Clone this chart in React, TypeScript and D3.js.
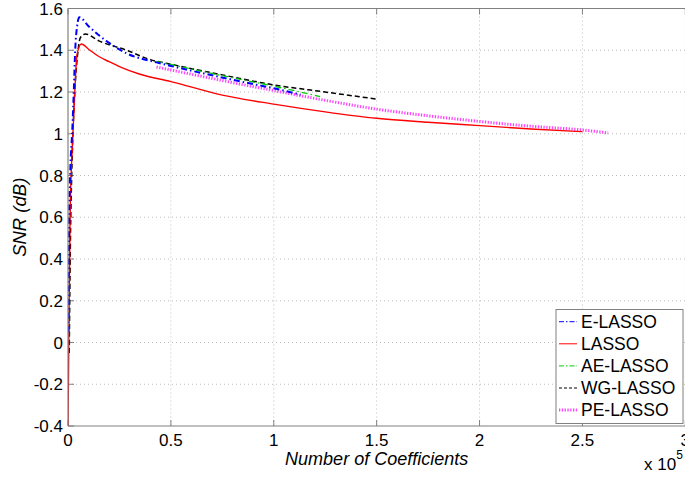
import React from "react";
import * as d3 from "d3";

// x values in units of 1e5 coefficients
const eLassoX = [0.002, 0.006, 0.012, 0.02, 0.028, 0.035, 0.045, 0.055, 0.1, 0.2, 0.285, 0.43, 0.5, 0.7, 0.9, 1.0, 1.13];
const eLassoY = [0.05, 0.6, 0.85, 1.0, 1.2, 1.4, 1.52, 1.558, 1.515, 1.435, 1.385, 1.342, 1.325, 1.28, 1.238, 1.218, 1.187];

const lassoX = [0, 0.003, 0.01, 0.024, 0.033, 0.044, 0.065, 0.1, 0.15, 0.2, 0.25, 0.35, 0.5, 0.75, 1.0, 1.25, 1.5, 1.75, 2.0, 2.25, 2.5];
const lassoY = [-0.4, -0.1, 0.6, 1.0, 1.2, 1.38, 1.43, 1.405, 1.37, 1.345, 1.322, 1.285, 1.25, 1.185, 1.142, 1.105, 1.074, 1.055, 1.039, 1.023, 1.01];

const aeLassoX = [0.43, 0.6, 0.8, 1.0, 1.225];
const aeLassoY = [1.347, 1.31, 1.268, 1.228, 1.178];

const wgLassoX = [0.006, 0.012, 0.018, 0.024, 0.033, 0.049, 0.06, 0.084, 0.15, 0.285, 0.4, 0.5, 0.75, 1.0, 1.25, 1.5];
const wgLassoY = [-0.05, 0.5, 0.8, 1.0, 1.2, 1.4, 1.46, 1.478, 1.445, 1.4, 1.355, 1.333, 1.282, 1.234, 1.2, 1.166];

const peLassoX = [0.43, 0.6, 0.8, 1.0, 1.25, 1.5, 1.75, 2.0, 2.25, 2.5, 2.625];
const peLassoY = [1.32, 1.285, 1.245, 1.207, 1.16, 1.118, 1.086, 1.059, 1.036, 1.018, 1.004];

const xTicks = [0, 0.5, 1, 1.5, 2, 2.5, 3];
const xTickLabels = ["0", "0.5", "1", "1.5", "2", "2.5", "3"];
const yTicks = [-0.4, -0.2, 0, 0.2, 0.4, 0.6, 0.8, 1, 1.2, 1.4, 1.6];
const yTickLabels = ["-0.4", "-0.2", "0", "0.2", "0.4", "0.6", "0.8", "1", "1.2", "1.4", "1.6"];

const seriesNames = ["E-LASSO", "LASSO", "AE-LASSO", "WG-LASSO", "PE-LASSO"];

const W = 685;
const H = 478;
const left = 68;
const right = 685.3;
const top = 8.5;
const bottom = 426;

export default function App() {
  const x = d3.scaleLinear().domain([0, 3]).range([left, right]);
  const y = d3.scaleLinear().domain([-0.4, 1.6]).range([bottom, top]);
  const line = d3
    .line<[number, number]>()
    .x((d) => x(d[0]))
    .y((d) => y(d[1]))
    .curve(d3.curveMonotoneX);
  const zip = (xs: number[], ys: number[]) => xs.map((v, i) => [v, ys[i]] as [number, number]);

  const styles = [
    { color: "#0000ff", width: 2, dash: "6,3,1.5,3" },
    { color: "#ff0000", width: 1.4, dash: "" },
    { color: "#00cc00", width: 1.3, dash: "6,3,1.5,3" },
    { color: "#000000", width: 1.5, dash: "5,3" },
    { color: "#ff44ff", width: 3, dash: "1.3,1.5" },
  ];
  const data = [
    zip(eLassoX, eLassoY),
    zip(lassoX, lassoY),
    zip(aeLassoX, aeLassoY),
    zip(wgLassoX, wgLassoY),
    zip(peLassoX, peLassoY),
  ];
  const drawOrder = [4, 3, 2, 1, 0];

  const font = "'Liberation Sans', Arial, Helvetica, sans-serif";
  const legX = 556;
  const legY = 309.5;
  const legW = 127;
  const legH = 114;

  return (
    <svg
      width={W}
      height={H}
      style={{ position: "absolute", left: 0, top: 0, background: "#fff" }}
      fontFamily={font}
    >
      <rect x={0} y={0} width={W} height={H} fill="#fff" />
      <defs>
        <clipPath id="plot">
          <rect x={left} y={top - 2} width={right - left} height={bottom - top + 2} />
        </clipPath>
      </defs>
      {/* grid */}
      {xTicks.slice(1).map((t) => (
        <line key={"gx" + t} x1={x(t)} x2={x(t)} y1={top} y2={bottom} stroke="#bdbdbd" strokeWidth={1} strokeDasharray="1,3" />
      ))}
      {yTicks.slice(1).map((t) => (
        <line key={"gy" + t} x1={left} x2={right} y1={y(t)} y2={y(t)} stroke="#bdbdbd" strokeWidth={1} strokeDasharray="1,3" />
      ))}
      {/* ticks inward */}
      {xTicks.map((t) => (
        <g key={"tx" + t}>
          <line x1={x(t)} x2={x(t)} y1={bottom} y2={bottom - 6} stroke="#808080" />
          <line x1={x(t)} x2={x(t)} y1={top} y2={top + 6} stroke="#808080" />
        </g>
      ))}
      {yTicks.map((t) => (
        <line key={"ty" + t} x1={left} x2={left + 6} y1={y(t)} y2={y(t)} stroke="#808080" />
      ))}
      {/* series */}
      <g clipPath="url(#plot)">
        {drawOrder.map((i) => (
          <path
            key={seriesNames[i]}
            d={line(data[i]) || ""}
            fill="none"
            stroke={styles[i].color}
            strokeWidth={styles[i].width}
            strokeDasharray={styles[i].dash || undefined}
          />
        ))}
      </g>
      {/* axes box */}
      <line x1={left} x2={left} y1={top} y2={bottom} stroke="#808080" strokeWidth={1.2} />
      <line x1={left} x2={right} y1={bottom} y2={bottom} stroke="#808080" strokeWidth={1.2} />
      <line x1={left} x2={right} y1={top} y2={top} stroke="#808080" strokeWidth={1.2} />
      {/* tick labels */}
      {xTicks.map((t, i) => (
        <text key={"lx" + t} x={x(t)} y={446} textAnchor="middle" fontSize={17} fill="#000">
          {xTickLabels[i]}
        </text>
      ))}
      {yTicks.map((t, i) => (
        <text key={"ly" + t} x={63} y={y(t) + 6} textAnchor="end" fontSize={17} fill="#000">
          {yTickLabels[i]}
        </text>
      ))}
      {/* axis labels */}
      <text x={(left + right) / 2} y={465} textAnchor="middle" fontSize={18} fontStyle="italic" fill="#000">
        Number of Coefficients
      </text>
      <text
        transform={`translate(26,${(top + bottom) / 2}) rotate(-90)`}
        textAnchor="middle"
        fontSize={18.5}
        fontStyle="italic"
        fill="#000"
      >
        SNR (dB)
      </text>
      <text x={644} y={470} fontSize={17} fill="#000">
        x 10
        <tspan dy={-11} fontSize={12}>5</tspan>
      </text>
      {/* legend */}
      <rect x={legX} y={legY} width={legW} height={legH} fill="#fff" stroke="#808080" strokeWidth={1} />
      {seriesNames.map((name, i) => {
        const ly = 321.7 + i * 22.1;
        return (
          <g key={"leg" + name}>
            <line
              x1={559}
              x2={577}
              y1={ly}
              y2={ly}
              stroke={styles[i].color}
              strokeWidth={i === 4 ? 3 : 1}
              strokeDasharray={styles[i].dash ? (i === 4 ? "1.3,1.5" : i === 3 ? "3,2" : "5,2,1.5,2") : undefined}
            />
            <text x={581} y={ly + 6} fontSize={17.5} fill="#000">
              {name}
            </text>
          </g>
        );
      })}
    </svg>
  );
}
